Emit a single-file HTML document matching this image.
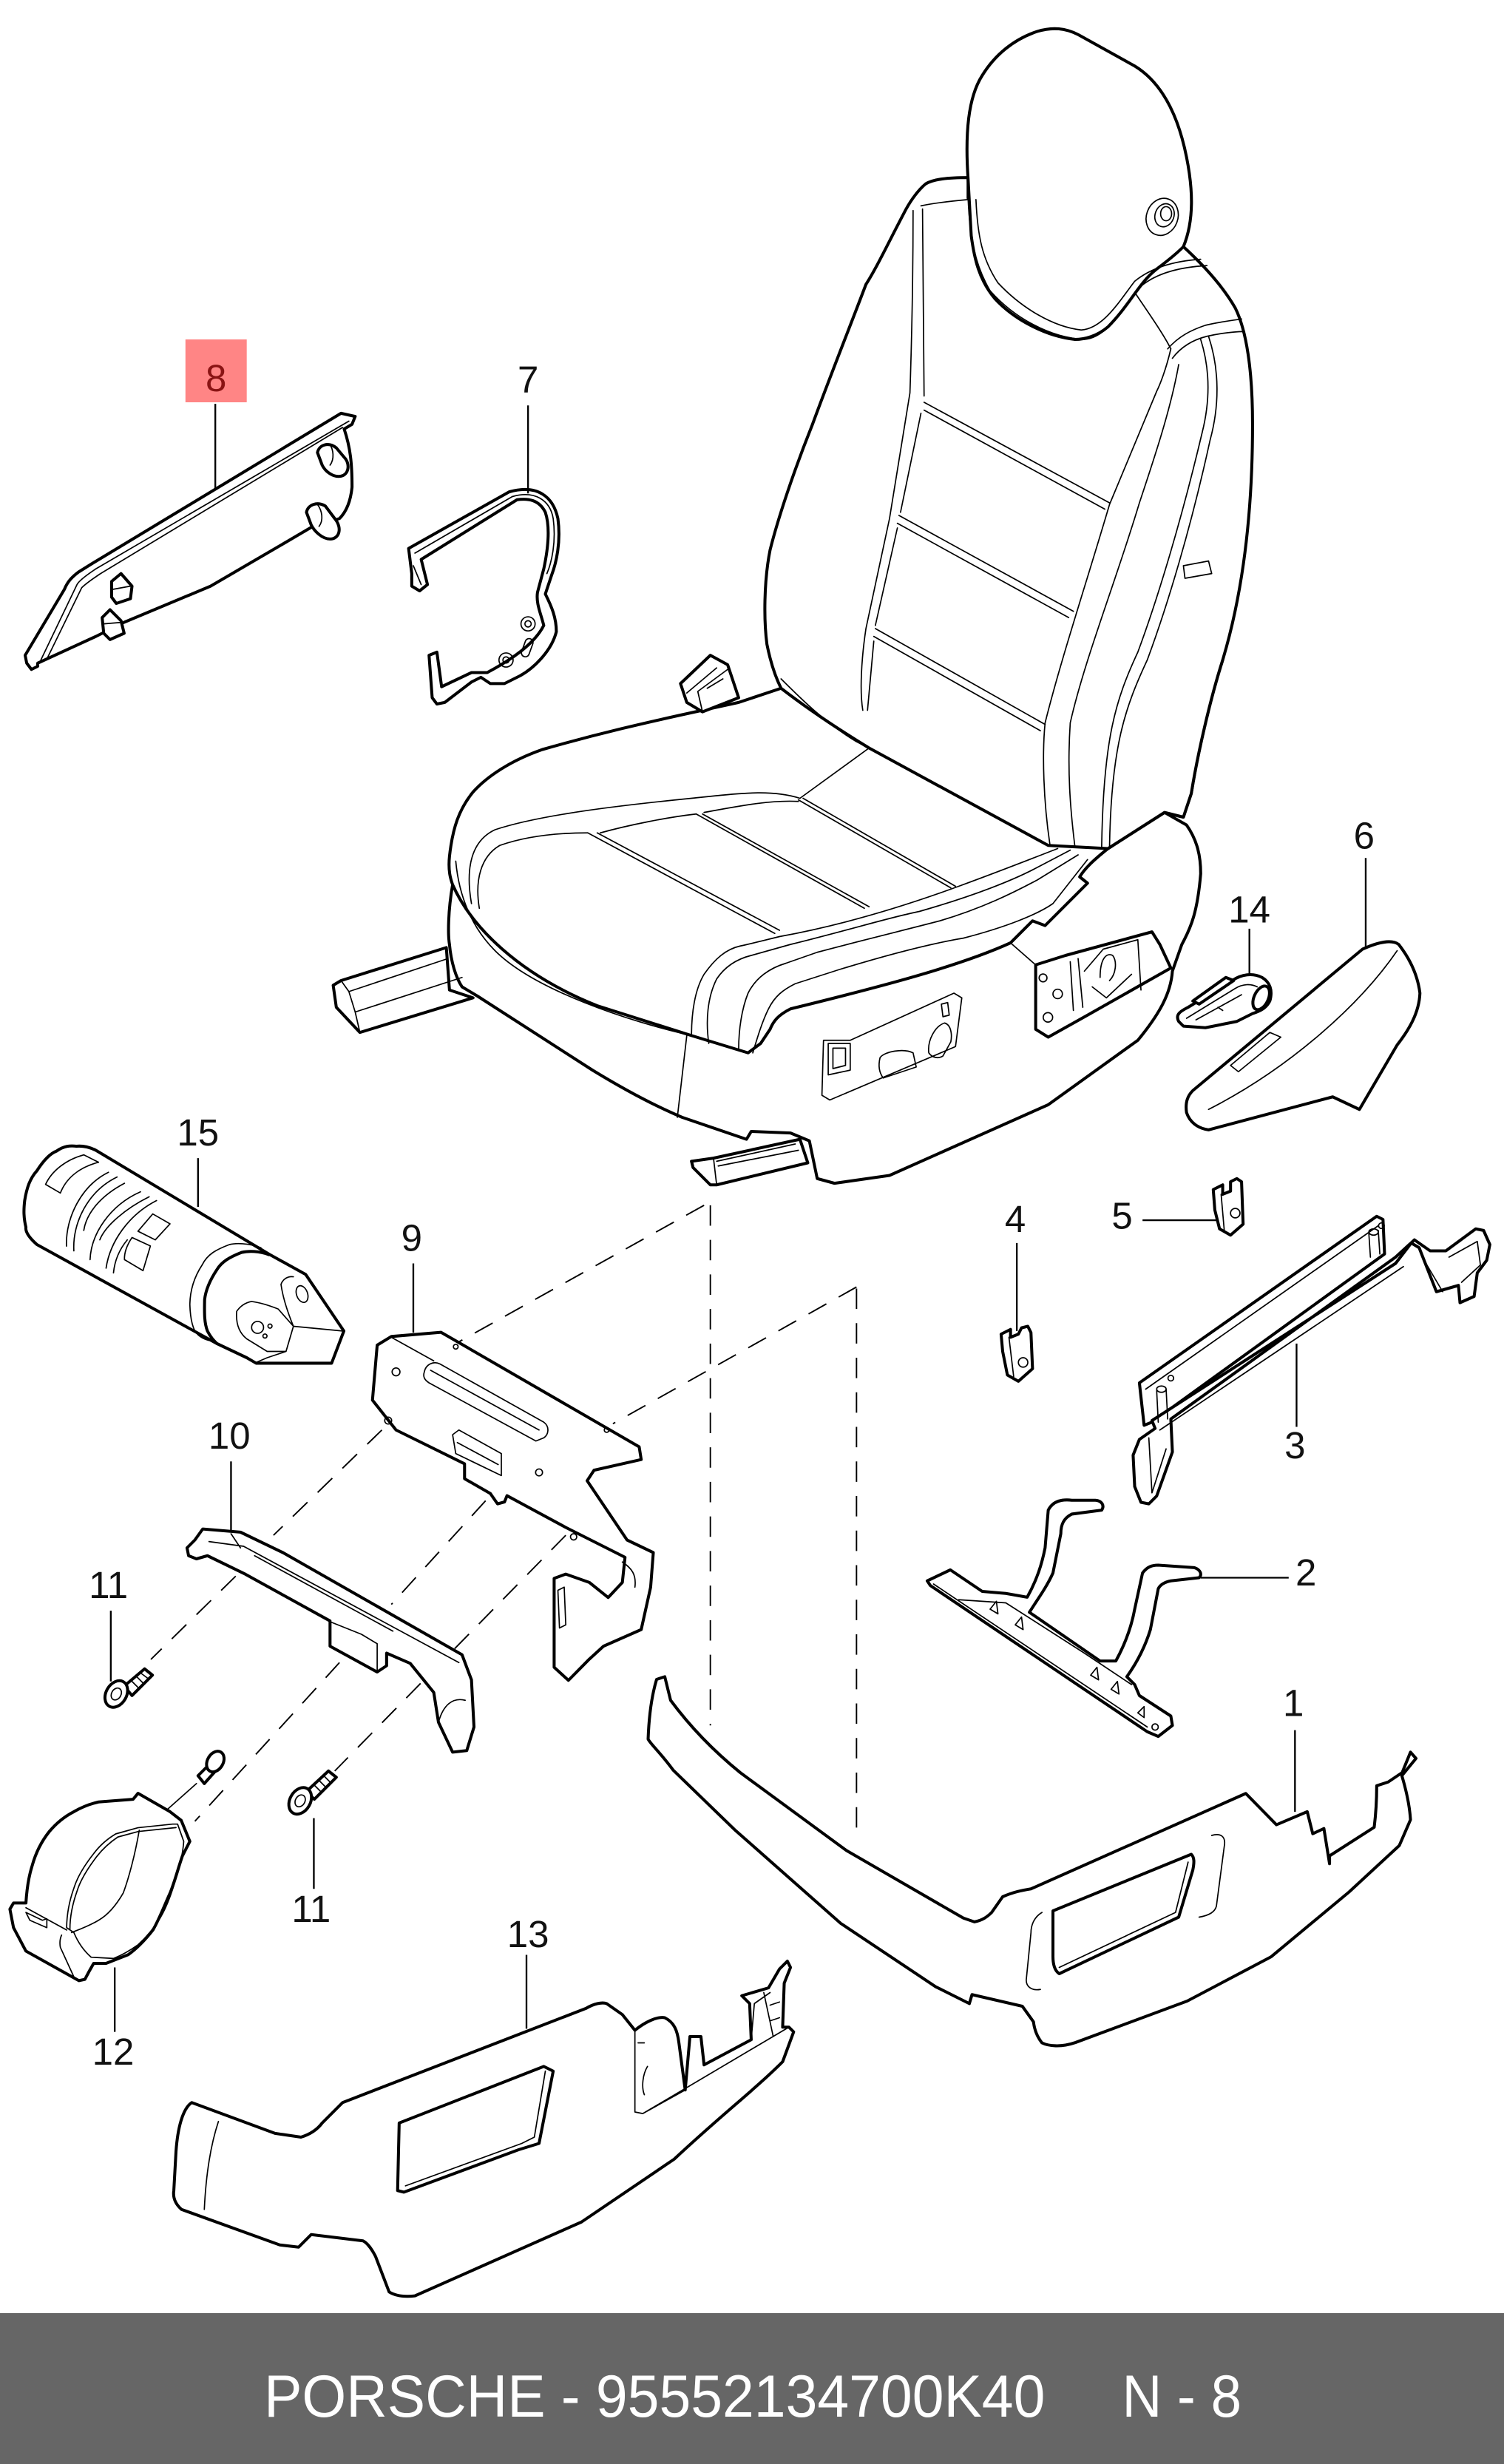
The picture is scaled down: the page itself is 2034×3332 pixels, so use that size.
<!DOCTYPE html>
<html><head><meta charset="utf-8"><style>
html,body{margin:0;padding:0;background:#fff;}
svg{display:block;}
.k{fill:#fff;stroke:#000;stroke-width:1.9;stroke-linejoin:round;stroke-linecap:round;}
.n{fill:none;stroke:#000;stroke-width:1.9;stroke-linejoin:round;stroke-linecap:round;}
.t{fill:none;stroke:#000;stroke-width:0.8;stroke-linejoin:round;stroke-linecap:round;}
.d{fill:none;stroke:#000;stroke-width:0.9;stroke-dasharray:13 9;}
.l{fill:none;stroke:#000;stroke-width:1.1;}
.lb{font-family:"Liberation Sans",Arial,sans-serif;font-size:24px;text-anchor:middle;fill:#111;}
</style></head><body>
<svg width="2034" height="3332" viewBox="0 0 957 1568" preserveAspectRatio="none" xmlns="http://www.w3.org/2000/svg">
<rect x="0" y="0" width="957" height="1568" fill="#fff"/>

<!-- dashed lines -->
<path class="d" d="M448,767 L290,855"/>
<path class="d" d="M452,767 L452,1098"/>
<path class="d" d="M545,819 L390,906"/>
<path class="d" d="M545,820 L545,1170"/>
<path class="d" d="M243,910 L174,977"/>
<path class="d" d="M309,955 L249,1021"/>
<path class="d" d="M360,977 L213,1127"/>
<path class="d" d="M150,1003 L96,1056"/>
<path class="d" d="M216,1058 L124,1159"/>
<path class="t" d="M125,1135 L107,1151"/>

<!-- ===== SEAT ===== -->
<path class="k" d="M288,563 C285,580 285,595 286,601 C287,612 290,622 294,628 L304,634 L377,681 C395,692 415,703 434,711 L475,725 L478,720 L503,721 L515,726 L520,750 L531,753 L566,748 L667,703 L724,662 C738,645 745,632 746,618 L752,601 C758,590 762,580 764,556 C764,545 762,535 755,525 L741,517 L705,540 Z"/>
<path class="k" d="M497,438 L470,447 L447,452 C410,460 380,467 345,477 C325,484 310,494 301,504 C292,515 288,527 286,545 C285,555 287,560 288,563 C300,590 330,620 380,640 L440,659 L476,670 L484,664 L490,655 C492,650 495,646 503,642 C560,628 610,615 643,600 L657,586 L665,589 L692,562 L687,558 C690,553 695,548 705,540 L741,517 L753,520 L758,505 C762,480 770,445 778,420 L700,430 L560,440 Z"/>
<path class="k" d="M616,113 C603,113 594,114 589,117 C583,122 578,130 575,136 C565,155 558,170 551,181 C540,210 528,240 517,270 C505,300 495,330 490,350 C486,370 486,395 488,410 C490,420 493,430 497,438 C510,448 530,462 553,476 L667,538 L705,540 L741,517 L753,520 L758,505 C762,480 770,445 778,420 C790,380 797,330 797,270 C797,235 793,210 786,196 C778,182 765,168 753,157 L700,150 L616,126 Z"/>
<path class="k" d="M616,114 C614,85 616,62 625,48 C633,35 645,25 660,20 C670,17 678,18 686,22 L722,42 C740,53 750,75 755,100 C759,120 760,140 753,157 C746,164 740,168 735,172 C725,180 718,195 705,208 C698,214 690,216 684,216 C665,214 645,203 633,190 C623,178 620,165 618,150 Z"/>
<path class="t" d="M616,126 C617,150 620,168 630,185 C645,202 668,215 690,216 C705,215 715,195 725,183 C735,174 750,170 768,169"/>
<path class="t" d="M621,127 C622,150 625,165 635,180 C650,196 670,208 688,210 C702,209 712,192 722,179 C733,170 748,166 764,165"/>
<ellipse cx="739.5" cy="138" rx="10" ry="12" class="t" transform="rotate(20 739.5 138)"/>
<ellipse cx="741" cy="137" rx="6" ry="7.5" class="t" transform="rotate(20 741 137)"/>
<ellipse cx="742" cy="136" rx="3.5" ry="4.5" class="t"/>
<path class="t" d="M586,131 C595,129 605,128 616,127"/>
<path class="t" d="M581,134 C581,180 580,220 579,250 L566,330 L551,400 C548,420 547,440 549,452"/>
<path class="t" d="M587,133 L588,252"/>
<path class="t" d="M586,263 L573,326"/>
<path class="t" d="M571,336 L557,398"/>
<path class="t" d="M556,408 L552,452"/>
<path class="t" d="M588,256 L706,320 M588,261 L703,324"/>
<path class="t" d="M572,328 L683,389 M571,333 L680,393"/>
<path class="t" d="M557,400 L665,461 M556,405 L662,465"/>
<path class="t" d="M722,186 C730,198 740,212 745,222"/>
<path class="t" d="M743,222 C750,214 758,210 767,207 C775,205 783,204 790,203"/>
<path class="t" d="M746,228 C752,220 760,216 768,214 C777,212 786,211 792,211"/>
<path class="t" d="M745,222 C742,235 738,245 736,249 L706,321 C690,375 675,420 665,460 C663,480 664,510 668,537"/>
<path class="t" d="M750,232 C745,260 735,290 725,320 C710,370 690,420 681,460 C679,490 681,515 684,539"/>
<path class="t" d="M764,216 C770,235 770,255 765,275 C752,330 737,380 724,415 C710,445 702,470 701,539"/>
<path class="t" d="M769,214 C776,235 776,258 770,280 C758,335 743,385 730,420 C716,450 707,475 706,539"/>
<path class="t" d="M753,360 L769,357 L771,365 L754,368 Z"/>
<path class="t" d="M497,432 C510,445 525,460 545,472 L553,476 L667,538"/>
<path class="t" d="M553,476 L509,508"/>
<path class="k" d="M433,435 L452,417 L463,423 L470,444 L447,453 L437,447 Z"/>
<path class="t" d="M437,441 L456,425 M447,453 L444,440 L463,426 M450,438 L460,432"/>
<path class="t" d="M300,575 C296,552 300,535 315,528 C345,518 400,512 440,508 C470,505 490,502 509,508"/>
<path class="t" d="M305,578 C302,560 306,545 318,538 C335,532 355,530 374,530"/>
<path class="t" d="M382,530 C400,525 425,520 443,518"/>
<path class="t" d="M448,517 C470,513 490,509 508,510"/>
<path class="t" d="M374,530 L493,594 M380,530 L496,592"/>
<path class="t" d="M443,518 L550,578 M447,518 L553,577"/>
<path class="t" d="M508,509 L605,565 M511,508 L608,564"/>
<path class="t" d="M290,548 C292,570 300,590 315,605 C340,630 400,650 440,659"/>
<path class="t" d="M440,659 C440,645 442,630 448,620 C455,610 462,604 471,602 C480,600 488,598 496,596 C540,588 580,575 610,564 C640,553 660,545 673,540"/>
<path class="t" d="M451,664 C449,650 450,635 456,623 C462,614 470,610 478,608 L503,601 C540,592 565,584 585,580 C620,570 645,560 660,552 L681,541"/>
<path class="t" d="M470,668 C470,655 472,642 476,632 C481,622 490,616 500,613 L520,606 C550,598 575,592 598,586 C625,578 645,568 660,560 L686,544"/>
<path class="t" d="M479,670 C482,660 485,650 489,642 C493,634 498,630 506,626 L534,617 C570,606 595,600 613,597 C640,590 660,582 670,575 L692,547"/>
<path class="t" d="M437,659 L431,711"/>
<path class="t" d="M643,600 L659,614"/>
<path class="t" d="M524,662 L541,662 L607,632 L612,635 L608,666 L528,700 L523,697 Z"/>
<path class="t" d="M527,664 L541,664 L541,681 L527,684 Z M530,667 L538,667 L538,678 L530,680 Z"/>
<path class="t" d="M560,673 C563,669 575,667 581,670 L583,679 L562,686 C559,682 559,677 560,673 Z"/>
<path class="t" d="M591,670 C590,662 595,653 601,651 C605,652 606,658 605,663 L600,672 C597,674 593,673 591,670 Z"/>
<path class="t" d="M599,639 L603,638 L604,646 L600,647 Z"/>
<path class="k" d="M659,614 L678,608 L733,593 L738,601 L745,616 L692,646 L667,660 L659,655 Z"/>
<circle cx="663.7" cy="622.3" r="2.5" class="t"/>
<circle cx="673" cy="632.5" r="3" class="t"/>
<circle cx="666.8" cy="647.4" r="3" class="t"/>
<path class="t" d="M681,612 L683,643 M686,610 L689,641 M690,618 L702,604 L724,598 L726,630 M700,622 C700,610 704,606 708,608 C711,612 710,620 706,624 M695,628 L704,635 L720,620"/>
<path class="k" d="M212,627 L217,624 L284,603 L286,630 L301,635 L229,657 L214,641 Z"/>
<path class="t" d="M217,624 L222,631 L285,610 M222,631 L226,644 L294,622 M226,644 L229,657"/>
<path class="k" d="M440,739 L454,737 L509,725 L514,740 L456,754 L452,754 L441,743 Z"/>
<path class="t" d="M454,737 L456,754 M456,739 L506,728 M457,742 L508,732"/>

<!-- ===== PART 8 ===== -->
<path class="k" d="M217,263 L226,265 L224,270 L219,273 C223,285 224,295 224,310 C223,320 220,326 216,330 L199,335 L182,345 L134,373 L79,396 L61,405 L24,422 L24,424 L20,426 L17,422 L16,417 L41,375 C43,370 46,367 50,364 L58,359 Z"/>
<path class="t" d="M222,268 L61,362 C55,366 50,370 49,372 L26,420"/>
<path class="t" d="M218,272 L64,365 C58,369 54,372 52,374 L30,419"/>
<path class="k" d="M202,288 C203,283 209,281 214,285 L219,291 C223,295 222,302 217,303 C212,304 207,300 205,296 Z"/>
<path class="t" d="M210,283 C212,286 213,292 210,296"/>
<path class="k" d="M195,326 C196,321 202,319 207,322 L213,330 C218,336 216,343 210,343 C205,343 200,338 198,334 Z"/>
<path class="t" d="M202,321 C205,325 206,331 203,335"/>
<path class="k" d="M71,370 L77,365 L84,373 L83,381 L74,384 L71,380 Z"/>
<path class="t" d="M72,375 L83,373"/>
<path class="k" d="M65,393 L70,388 L77,395 L79,403 L70,407 L66,403 Z"/>
<path class="t" d="M66,397 L78,396"/>

<!-- ===== PART 7 ===== -->
<path class="k" d="M260,349 L324,313 C342,308 352,316 355,330 C357,345 354,358 351,366 L347,378 C351,386 354,393 354,402 C351,414 340,425 331,430 L321,435 L312,435 L306,431 L300,434 L283,447 L278,448 L275,444 L273,417 L278,415 L281,437 L300,428 L310,428 C325,420 340,410 346,398 C344,390 341,384 342,377 L346,362 C349,348 350,335 347,326 C343,318 336,317 329,318 L268,356 L272,372 L267,376 L262,373 L262,365 Z"/>
<path class="t" d="M264,352 L326,316 C340,312 350,318 352,330 C354,345 351,358 348,365"/>
<path class="t" d="M263,360 L268,372"/>
<circle cx="336" cy="397" r="4.5" class="t"/><circle cx="336" cy="397" r="2" class="t"/>
<circle cx="322" cy="420" r="4.5" class="t"/><circle cx="322" cy="420" r="2" class="t"/>
<rect x="333" y="406" width="5" height="12" rx="2.5" class="t" transform="rotate(20 335 412)"/>

<!-- ===== PART 6 ===== -->
<path class="k" d="M867,604 C878,599 886,598 890,601 C897,610 902,620 903.5,632 C903,645 896,656 889,665 L865,706 L848,698 L769,719 C762,718 757,714 755,708 C754,701 756,697 759,694 Z"/>
<path class="t" d="M889,605 C865,640 820,680 769,706"/>
<path class="t" d="M783,678 L808,657 L815,660 L788,682 Z"/>

<!-- ===== PART 14 ===== -->
<path class="k" d="M750,650 C748,646 750,644 756,641 L784,624 C790,620 797,619 803,622 C808,625 810,630 808,637 C806,641 803,643 797,645 L787,650 L767,654 L753,653 Z"/>
<path class="k" d="M759,637 L780,622 L785,624 L763,639 Z"/>
<path class="t" d="M755,648 L786,629 C791,626 796,626 800,628 M761,649 L790,633 M775,641 L778,643"/>
<ellipse cx="802.5" cy="635" rx="4.5" ry="8" class="k" transform="rotate(25 802.5 635)"/>

<!-- ===== PART 5 & 4 ===== -->
<path class="k" d="M772,757 L778,754 L778,760 L783,758 L783,752 L787,750 L790,752 L791,779 L783,786 L776,782 L773,770 Z"/>
<circle cx="786" cy="772" r="3" class="t"/><path class="t" d="M777,760 L779,783"/>
<path class="k" d="M637,849 L643,846 L643,851 L648,849 L650,845 L654,844 L656,848 L657,871 L648,879 L641,875 L638,860 Z"/>
<circle cx="651" cy="867" r="3" class="t"/><path class="t" d="M642,851 L645,876"/>

<!-- ===== PART 3 ===== -->
<path class="k" d="M725,880 L876,774 L880,776 L881,798 L733,905 L728,907 Z"/>
<path class="t" d="M729,884 L877,780"/>
<path class="k" d="M733,904 L888,804 L898,791 L903,794 L914,822 L928,818 L929,829 L938,825 L940,810 L946,802 L948,792 L944,783 L939,782 L920,796 L910,796 L900,789 L888,800 L745,903 L746,924 L736,952 L731,957 L726,956 L722,946 L721,926 L725,916 L735,909 Z"/>
<path class="t" d="M738,910 L893,806 M731,915 L733,950 L742,922 M905,800 L918,822 M922,800 L940,790 L942,805 L930,816"/>
<path class="t" d="M736,885 L737,905 M742,884 L743,903"/>
<ellipse cx="739" cy="884" rx="3" ry="2" class="t"/>
<path class="t" d="M871,785 L872,800 M877,783 L878,798"/>
<ellipse cx="874" cy="784" rx="3" ry="2" class="t"/>
<circle cx="879" cy="780" r="1.8" class="t"/><circle cx="745" cy="877" r="1.8" class="t"/>

<!-- ===== PART 2 ===== -->
<path class="k" d="M590,1006 L604.7,999 L625,1012.7 L640,1014 L653.6,1016.4 C660,1005 663,995 665,985 L667,961 C670,955 676,954 682,954.7 L697,954.7 C701,955 703,958 701,961 L682,963.5 C677,966 675,970 675,976 L670,1001 C666,1010 660,1018 655,1026 L700,1057 L710,1057 C716,1046 720,1035 722,1024 L727,1001 C730,997 733,996 737,996 L760,997.6 C764,999 765,1002 763,1004 L745,1006 C740,1007 738,1009 737,1011 L732,1037 C728,1050 722,1060 717,1067 L722,1072 L725,1079 L745,1092 L746,1098 L737,1105 L730,1102 L592,1009 Z"/>
<path class="t" d="M594,1008 L730,1099 M610,1018 L640,1020 L690,1052 L720,1072"/>
<path class="t" d="M630,1024 L634,1019 L635,1027 Z M646,1034 L650,1029 L651,1037 Z M694,1066 L698,1061 L699,1069 Z M707,1075 L711,1070 L712,1078 Z M724,1090 L728,1086 L728,1093 Z"/>
<circle cx="735" cy="1099" r="2" class="t"/>

<!-- ===== PART 15 ===== -->
<path class="k" d="M61,732 L171,798 L194.5,811 L218.8,847 L211,867.5 L163,867.5 L157,864 L138,855 L23.5,792 C19,788 16,784 16.5,781 C15,775 15,770 15.7,764 C17,756 19,750 23.5,745 C28,738 32,734 36,732.5 C41,729 45,729 48.6,729.4 C53,729 57,730 61,732 Z"/>
<path class="t" d="M166,794 C158,791 150,791 146,792 C138,795 132,798 128.6,805 C124,812 121,820 120.8,830 C121,838 122,843 124,847 C126,850 129,852 133,853"/>
<path class="n" d="M171,798.4 C165,796 158,796 153.7,797 C146,800 141,803 138,808 C134,814 131,820 130.2,827 C130,836 130,842 132,847 C134,851 136,853 138,855"/>
<path class="t" d="M150.6,834.5 C153,831 156,829 160,828.2 C166,829 172,831 177,833 L186.7,844 L218,847 M186.7,844 L182,860 L170,864 L163,867 M178.8,817.3 C180,814 183,812 186.7,812.5 M178.8,817.3 C180,826 183,835 186.7,844 M150.6,834.5 C150,842 152,848 157,852 L170,860 L182,860"/>
<ellipse cx="192.2" cy="823.5" rx="3.5" ry="5.5" class="t" transform="rotate(-20 192.2 823.5)"/>
<circle cx="163.9" cy="844.7" r="3.8" class="t"/>
<circle cx="171.8" cy="843.9" r="1.3" class="t"/><circle cx="168.6" cy="850.2" r="1.3" class="t"/>
<path class="t" d="M29,753.7 L38.4,759.2 C42,750 50,743 62.7,739.6 L53.3,734.9 C42,738 33,745 29,753.7 Z"/>
<path class="t" d="M87.8,783.5 L98.8,789 L108.2,778.8 L97.2,772.5 Z"/>
<path class="t" d="M79.2,801.6 L91,808.6 L95.7,792.9 L84,787.5 C81,792 79,797 79.2,801.6 Z"/>
<path class="t" d="M69,746 C51.8,754.5 41.6,774.9 42.3,793 M74.5,749 C56,758 46,778 47,796 M79.2,753 C64,761 55,772 53.3,783 M89.4,758.4 C70,767 58,785 57.3,801.6 M94.9,761.6 C80,769 67,780 63.5,789 M99.6,764 C82,773 70,790 67.5,807 M81,789 C76,795 73,802 72.2,810"/>

<!-- ===== PART 9 ===== -->
<path class="k" d="M240,856 L249,850.5 L280.6,847.8 L406.7,920.7 L408,928.8 L378,935.6 L373.6,942.3 L399,980 L415.7,988 L414,1010 L408,1037 L384,1047.6 L375,1055.8 L361.7,1069.3 L352.6,1061 L352.6,1004.4 L360,1001.7 L375,1007 L387,1016.6 L396,1007 L397.7,991 L360,972 L322.6,951.8 L321,955.8 L316.6,957 L312,950.4 L295.6,941 L295.6,931.5 L252,910 L237,891 Z"/>
<path class="t" d="M249,851 L276,866"/>
<path class="t" d="M270,873 C271,868 276,866 280,868 L346,905 C350,908 349,913 346,915 L341,917 L273,880 C270,878 269,876 270,873 Z"/>
<path class="t" d="M274,872 L343,910"/>
<path class="t" d="M288,913 L292,910 L319,925 L319,939 L290,925 Z M291,918 L317,932"/>
<circle cx="252" cy="873" r="2.5" class="t"/><circle cx="247" cy="904" r="2.2" class="t"/>
<circle cx="290" cy="857" r="1.5" class="t"/><circle cx="386" cy="910" r="1.5" class="t"/>
<circle cx="343" cy="937" r="2.2" class="t"/><circle cx="365" cy="978" r="2" class="t"/>
<path class="t" d="M355,1012 L359,1010 L360,1034 L356,1036 Z M396,994 C402,998 405,1002 404,1010"/>

<!-- ===== PART 10 ===== -->
<path class="k" d="M129,973 L153,975 L180,988 L294,1053 L300,1069 L301.6,1099 L297,1114 L288,1115 L279,1096 L276,1077 L261,1058.5 L246,1052 L246,1060 L240,1064 L210,1047.6 L210,1031.5 L156,1001.7 L132,990 L125,992 L120,990 L119,985 L124,980 Z"/>
<path class="t" d="M133,981 L155,984 L292,1058 M147,976 L153,985 M162,990 L250,1038 M210,1032 L230,1040 L240,1046 L240,1064"/>
<path class="t" d="M279,1096 C282,1085 288,1080 296,1082"/>

<!-- ===== SCREWS 11 ===== -->
<path class="k" d="M79,1073 L92,1062 L97,1066 L84,1079 Z"/>
<path class="t" d="M84,1070 L88,1074 M87,1067 L91,1071 M90,1065 L94,1068"/>
<ellipse cx="74" cy="1078" rx="6.5" ry="9" class="k" transform="rotate(30 74 1078)"/>
<ellipse cx="74" cy="1078" rx="3" ry="4" class="t" transform="rotate(30 74 1078)"/>
<path class="k" d="M195,1140 L209,1127 L214,1131 L200,1145 Z"/>
<path class="t" d="M200,1136 L204,1140 M203,1133 L207,1137 M206,1130 L210,1134"/>
<ellipse cx="191" cy="1146" rx="6.5" ry="9" class="k" transform="rotate(30 191 1146)"/>
<ellipse cx="191" cy="1146" rx="3" ry="4" class="t" transform="rotate(30 191 1146)"/>
<path class="k" d="M126,1130 L134,1122 L138,1126 L130,1135 Z"/>
<ellipse cx="137" cy="1121" rx="5" ry="7" class="k" transform="rotate(30 137 1121)"/>

<!-- ===== PART 12 ===== -->
<path class="k" d="M87.8,1141.2 L108.2,1152.9 L115.3,1158.4 L120.8,1171.8 L116,1181.2 C113,1190 111,1198 108.2,1204.7 C104,1214 101,1222 97.3,1228.2 C92,1235 87,1240 81.6,1243.9 L67.5,1249.4 L59.6,1249.4 L56.5,1254.9 L54,1259.6 L50.2,1260.4 L16.5,1241.6 L8.6,1226.7 L6.3,1214.9 L8.6,1211 L16.5,1211 C17,1203 18,1195 20.4,1187.5 C23,1178 27,1171 31.4,1165.5 C36,1160 41,1156 47,1152.9 C52,1150 57,1148 62.7,1146.7 L84.7,1145 Z"/>
<path class="t" d="M109.8,1160.8 L87.8,1163.1 L73.7,1167 C67,1171 63,1175 59.6,1179.6 C53,1188 49,1195 47,1201.6 C44,1210 42.5,1218 42.4,1226.7 L47,1229.8 C50,1237 54,1242 58,1245.5 L72.2,1246.3 C78,1244 83,1241 87.8,1237.6 C94,1232 98,1227 102,1220.4 C107,1212 110,1202 113,1192.2 C115,1185 116.5,1178 116.9,1171.8 L113,1160.8 Z"/>
<path class="t" d="M112,1163 L88,1165.5 L75,1169 C69,1173 65,1177 61.5,1181.5 C55,1190 51,1197 49,1203.5 C46,1212 44.5,1220 44.5,1227.5"/>
<path class="t" d="M88.6,1164.7 C86,1180 82,1195 78.4,1204.7 C73,1214 68,1219 62.7,1222 C56,1226 50,1228 45.5,1229.8"/>
<path class="t" d="M16.5,1214 L42.4,1228.2 M16.5,1217 L27,1222 L29.8,1221 L29.8,1226.7 L19,1222 Z M39.2,1231.4 C38,1234 38,1237 38.4,1239.2 L47,1258"/>

<!-- ===== PART 13 ===== -->
<path class="k" d="M122,1338 L175,1357.6 L191.5,1360 C198,1358 202,1355 205,1351 L218,1338 L373,1278 C378,1275 383,1274 386,1275 L396,1282 L404,1292 C410,1287 418,1283 423,1284 C429,1287 431,1292 432,1300 L436,1330 L439,1296 L446,1296 L448,1314 L478,1298 L477,1275 L472,1270 L489,1265 L496,1253 L501,1248 L503,1252 L499,1262 L498,1290 L502,1290 L505,1293 L498,1312 C480,1330 460,1345 429,1374 L370,1414 L264,1461 C255,1462 250,1460 247.6,1458.5 L239,1436 C236,1430 233,1427 231,1426 L198,1422 L190,1430 L178,1428.6 L115.5,1406 C111,1402 110,1398 110.6,1394 L112,1369 C113,1355 116,1342 122,1338 Z"/>
<path class="t" d="M404,1292 L404,1344 L409,1345 L436,1330 M409,1345 L502,1290 M406,1300 L410,1300 M412,1315 C409,1320 408,1328 410,1333 M478,1298 L480,1275 L490,1268 M486,1268 L489,1282 L492,1296 M490,1276 L496,1274 M490,1286 L496,1284"/>
<path class="k" d="M254,1351 L346,1315 L352,1318 L343,1364 L330,1368 L257,1395 L253,1394 Z"/>
<path class="t" d="M258,1391 L332,1364 L340,1360 L347,1318"/>
<path class="t" d="M139,1350 C134,1365 131,1385 130,1406"/>

<!-- ===== PART 1 ===== -->
<path class="k" d="M423,1067 L426.7,1082 C440,1100 455,1115 471,1128 L538.6,1177.6 L613,1220.6 L620,1223 C625,1222 628,1220 631,1217 L638,1207 C645,1204 650,1203 656,1202 L792.7,1141.3 L812.2,1161.2 L831.8,1152.9 L835.3,1166.9 L842.4,1163.6 L846,1186 L846,1181 L874.4,1162.8 C876,1150 876,1142 876,1136.4 L883.3,1134 L892.2,1128 L897.5,1115 L901,1119 L892,1130 C895,1140 897,1150 897.5,1158 L890.4,1174.4 L858.4,1204 L808.7,1245.3 L755.4,1273.4 L684.3,1299.8 C675,1303 667,1302 663,1300 C659,1295 658,1290 657.6,1286.6 L650.5,1276.7 L618.5,1269.3 L616.8,1275 L595.4,1264.3 L535,1224 L467.5,1164.4 L428.4,1126.5 C420,1115 414,1110 412.4,1106.7 C413,1090 415,1078 417.8,1068.7 Z"/>
<path class="k" d="M670,1216 L758,1180 C760,1182 760,1185 759,1190 L750,1220 L674,1256 C671,1254 670,1250 670,1245 Z"/>
<path class="t" d="M674,1252 L748,1217 L756,1185"/>
<path class="t" d="M663,1217 C658,1220 656,1225 656,1230 L653,1260 C653,1264 656,1267 662,1266"/>
<path class="t" d="M771,1168 C778,1166 780,1170 779,1175 L774,1213 C773,1217 769,1219 763,1220"/>

<!-- ===== LEADER LINES ===== -->
<path class="l" d="M137,257 L137,311"/>
<path class="l" d="M336,258 L336,314"/>
<path class="l" d="M869,546 L869,604"/>
<path class="l" d="M795,591 L795,621"/>
<path class="l" d="M126,737 L126,768"/>
<path class="l" d="M263,804 L263,848"/>
<path class="l" d="M647,791 L647,847"/>
<path class="l" d="M727,776.5 L774,776.5"/>
<path class="l" d="M147,930 L147,975"/>
<path class="l" d="M825,855 L825,908"/>
<path class="l" d="M764,1004 L820,1004"/>
<path class="l" d="M70.5,1025 L70.5,1070"/>
<path class="l" d="M824,1101 L824,1153"/>
<path class="l" d="M199.7,1157 L199.7,1202"/>
<path class="l" d="M335,1244 L335,1291"/>
<path class="l" d="M73,1252 L73,1293"/>

<!-- ===== LABELS ===== -->
<rect x="118" y="216" width="39" height="40" fill="#ff8585"/>
<text class="lb" x="137.5" y="249" style="fill:#8a1414">8</text>
<text class="lb" x="336" y="250">7</text>
<text class="lb" x="868" y="540">6</text>
<text class="lb" x="795" y="587">14</text>
<text class="lb" x="126" y="729">15</text>
<text class="lb" x="262" y="796">9</text>
<text class="lb" x="646" y="784">4</text>
<text class="lb" x="714" y="782">5</text>
<text class="lb" x="146" y="922">10</text>
<text class="lb" x="824" y="928">3</text>
<text class="lb" x="831" y="1009">2</text>
<text class="lb" x="69" y="1017">11</text>
<text class="lb" x="823" y="1092">1</text>
<text class="lb" x="198" y="1223">11</text>
<text class="lb" x="336" y="1239">13</text>
<text class="lb" x="72" y="1314">12</text>

<!-- ===== FOOTER ===== -->
<rect x="0" y="1472" width="957" height="96" fill="#666666"/>
<text x="168" y="1538" font-family="Liberation Sans, Arial, sans-serif" font-size="38" fill="#ffffff" textLength="497" lengthAdjust="spacingAndGlyphs">PORSCHE - 95552134700K40</text>
<text x="714" y="1538" font-family="Liberation Sans, Arial, sans-serif" font-size="38" fill="#ffffff" textLength="76" lengthAdjust="spacingAndGlyphs">N - 8</text>
</svg>
</body></html>
